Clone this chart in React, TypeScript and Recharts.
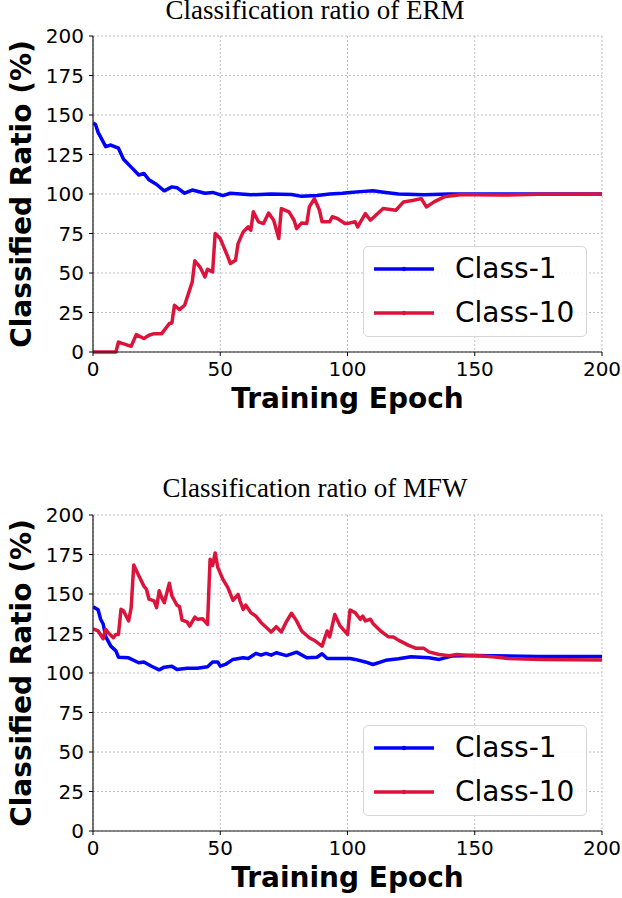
import React from 'react';
import { LineChart, Line, XAxis, YAxis, CartesianGrid, Legend, Label } from 'recharts';

const xTicks = [0, 50, 100, 150, 200];
const yTicks = [0, 25, 50, 75, 100, 125, 150, 175, 200];

// ERM panel
const ermClass1Epochs = [0, 1, 2, 3, 5, 7, 10, 12, 15, 18, 20, 22, 25, 28, 31, 33, 36, 39, 44, 47, 51, 54, 58, 62, 70, 78, 82, 88, 93, 98, 101, 105, 110, 115, 120, 130, 140, 150, 175, 200];
const ermClass1Ratio = [145, 144, 139, 136, 130, 131, 129, 122, 117, 112, 113, 109, 106, 102, 104.5, 104, 100.5, 102.5, 100.5, 101, 99, 100.5, 100, 99.5, 100, 99.7, 98.5, 99, 100, 100.5, 101, 101.5, 102, 101, 100, 99.5, 100, 100, 100, 100];

const ermClass10Epochs = [0, 9, 10, 15, 17, 20, 22, 24, 27, 30, 31, 32, 34, 36, 39, 40, 42, 44, 45, 47, 48, 50, 53, 54, 56, 57, 59, 61, 62, 63, 65, 67, 69, 71, 73, 74, 77, 79, 80, 82, 84, 85, 87, 89, 90, 93, 94, 96, 99, 101, 103, 104, 107, 109, 114, 119, 122, 126, 129, 131, 134, 138, 145, 150, 160, 175, 200];
const ermClass10Ratio = [0, 0, 6.3, 3.6, 11, 8.5, 10.6, 11.6, 11.6, 18, 18.4, 29.6, 26.8, 29.6, 44.4, 57.7, 53.9, 47.5, 52.4, 50.7, 75, 71.8, 60.2, 56, 58, 68.6, 76, 79.2, 77, 88.7, 82.4, 81.3, 88, 83.4, 71.8, 90.8, 88.7, 83.4, 78.1, 81.7, 81.3, 91.8, 97.1, 89.7, 82.4, 82.4, 85.6, 84.5, 81.3, 81.7, 82.4, 79.2, 87.6, 83.4, 90.8, 89.7, 95, 96, 97.1, 91.8, 95, 98.2, 99.7, 99.5, 99.3, 99.8, 100];

// MFW panel
const mfwClass1Epochs = [0, 2, 3, 4, 5, 7, 9, 10, 14, 18, 20, 23, 26, 28, 31, 33, 37, 41, 45, 47, 49, 50, 52, 55, 59, 61, 64, 66, 68, 70, 72, 76, 80, 84, 88, 90, 92, 96, 101, 103, 107, 110, 115, 120, 125, 132, 136, 141, 150, 175, 200];
const mfwClass1Ratio = [142, 140, 134, 131, 123, 117, 114, 110, 109.6, 106.5, 107, 104.3, 102, 103.7, 104.3, 102.2, 103, 103, 104, 107, 107, 104.3, 105.4, 108.6, 109.6, 109.2, 112.4, 111.3, 112.4, 111.3, 112.8, 111, 113.2, 109.6, 110, 112.2, 109.2, 109.2, 109.2, 108.6, 107, 105.4, 108, 109, 110.3, 109.6, 108.6, 110.7, 111, 110.5, 110.5];

const mfwClass10Epochs = [0, 2, 4, 5, 6, 8, 9, 10, 11, 12, 14, 15, 16, 18, 20, 21, 22, 24, 25, 26, 27, 28, 30, 31, 33, 34, 35, 37, 38, 40, 41, 43, 45, 46, 47, 48, 49, 51, 53, 55, 57, 58, 59, 60, 62, 64, 66, 70, 72, 74, 76, 78, 80, 82, 85, 87, 90, 92, 93, 95, 97, 100, 101, 103, 105, 106, 107, 109, 110, 113, 116, 118, 120, 124, 127, 130, 132, 136, 140, 143, 147, 150, 157, 163, 176, 200];
const mfwClass10Ratio = [128, 126.6, 121.7, 127.6, 125.5, 122.3, 124.4, 124.4, 140.3, 139.3, 132.9, 141.4, 168.3, 161.5, 155, 153, 146.7, 145.6, 141.4, 152, 147.7, 144.5, 156.8, 148.8, 142.9, 142, 133.5, 132.3, 129.7, 135.4, 134, 134.4, 130.8, 172, 168, 176, 167, 159.4, 154, 146, 149.8, 144.5, 140.3, 143, 138.2, 136, 132, 126, 129.3, 126, 132.5, 137.8, 133, 126.6, 122.3, 120.6, 117, 126.6, 122.8, 137, 130, 124.4, 139.9, 138.2, 134, 136, 133, 134, 131.4, 126.6, 123, 122.8, 120.8, 117.5, 115.6, 115.6, 113.4, 111.7, 111, 111.7, 111.3, 111.1, 110.3, 109.2, 108.6, 108.2];

const BLUE = '#0000ff';
const RED = '#dc143c';
const SANS = '"DejaVu Sans", sans-serif';
const SERIF = '"Liberation Serif", "Times New Roman", serif';
const FRAME = '#1a1a1a';

const toPoints = (epochs: number[], values: number[]) =>
  epochs.map((epoch, i) => ({ epoch, ratio: values[i] }));

const LegendBox = ({ payload }: any) => (
  <div
    style={{
      position: 'relative',
      width: 224,
      height: 91,
      boxSizing: 'border-box',
      border: '1px solid #d6d6d6',
      borderRadius: 5,
      background: 'rgba(255,255,255,0.85)',
      fontFamily: SANS,
      fontSize: 28,
      color: '#000',
    }}
  >
    {(payload || []).map((entry: any, i: number) => (
      <div
        key={entry.value}
        style={{ position: 'absolute', left: 0, top: 2 + i * 44, height: 40, display: 'flex', alignItems: 'center' }}
      >
        <svg width={91} height={40}>
          <line x1={10} y1={20} x2={70} y2={20} stroke={entry.color} strokeWidth={3.5} />
          <circle cx={40} cy={20} r={2.2} fill={entry.color} />
        </svg>
        <span style={{ lineHeight: '40px' }}>{entry.value}</span>
      </div>
    ))}
  </div>
);

type PanelProps = {
  title: string;
  top: number;
  titleBaseline: number;
  class1: { epoch: number; ratio: number }[];
  class10: { epoch: number; ratio: number }[];
};

const Panel = ({ title, top, titleBaseline, class1, class10 }: PanelProps) => (
  <div style={{ position: 'absolute', left: 0, top, width: 622, height: 420 }}>
    <svg style={{ position: 'absolute', left: 0, top: 0, overflow: 'visible' }} width={622} height={40}>
      <text x={315} y={titleBaseline} textAnchor="middle" fontFamily={SERIF} fontSize={27} fill="#000">
        {title}
      </text>
    </svg>
    <LineChart width={622} height={420} margin={{ top: 36, right: 20, bottom: 38, left: 0 }}>
      <CartesianGrid stroke="#b0b0b0" strokeDasharray="2 2" strokeWidth={0.8} />
      <XAxis
        type="number"
        dataKey="epoch"
        domain={[0, 200]}
        ticks={xTicks}
        allowDataOverflow
        height={30}
        tickSize={4}
        tickMargin={6}
        tick={{ fontSize: 20, fontFamily: SANS, fill: '#000' }}
        tickLine={{ stroke: '#000' }}
        axisLine={{ stroke: FRAME, strokeWidth: 1.2 }}
      >
        <Label
          content={({ viewBox }: any) => (
            <text
              x={viewBox.x + viewBox.width / 2}
              y={viewBox.y + 56}
              textAnchor="middle"
              fontFamily={SANS}
              fontWeight="bold"
              fontSize={28}
              fill="#000"
            >
              Training Epoch
            </text>
          )}
        />
      </XAxis>
      <XAxis
        xAxisId="top"
        orientation="top"
        type="number"
        domain={[0, 200]}
        height={0}
        tick={false}
        tickLine={false}
        axisLine={{ stroke: FRAME, strokeWidth: 1.2 }}
      />
      <YAxis
        type="number"
        domain={[0, 200]}
        ticks={yTicks}
        width={93}
        tickSize={4}
        tickMargin={5}
        tick={{ fontSize: 20, fontFamily: SANS, fill: '#000' }}
        tickLine={{ stroke: '#000' }}
        axisLine={{ stroke: FRAME, strokeWidth: 1.2 }}
      >
        <Label
          content={({ viewBox }: any) => {
            const cx = 31;
            const cy = viewBox.y + viewBox.height / 2;
            return (
              <text
                x={cx}
                y={cy}
                transform={`rotate(-90, ${cx}, ${cy})`}
                textAnchor="middle"
                fontFamily={SANS}
                fontWeight="bold"
                fontSize={28}
                fill="#000"
              >
                Classified Ratio (%)
              </text>
            );
          }}
        />
      </YAxis>
      <YAxis
        yAxisId="right"
        orientation="right"
        type="number"
        domain={[0, 200]}
        width={0}
        tick={false}
        tickLine={false}
        axisLine={{ stroke: FRAME, strokeWidth: 1.2 }}
      />
      <Legend
        layout="vertical"
        align="center"
        verticalAlign="middle"
        content={<LegendBox />}
        wrapperStyle={{ left: 363, top: 246, width: 224 }}
      />
      <Line
        name="Class-1"
        data={class1}
        dataKey="ratio"
        type="linear"
        stroke={BLUE}
        strokeWidth={3.5}
        strokeLinejoin="round"
        dot={false}
        isAnimationActive={false}
      />
      <Line
        name="Class-10"
        data={class10}
        dataKey="ratio"
        type="linear"
        stroke={RED}
        strokeWidth={3.5}
        strokeLinejoin="round"
        dot={false}
        isAnimationActive={false}
      />
    </LineChart>
  </div>
);

export default function App() {
  return (
    <div style={{ position: 'absolute', left: 0, top: 0, width: 622, height: 898, background: '#fff', overflow: 'hidden' }}>
      <Panel
        title="Classification ratio of ERM"
        top={0}
        titleBaseline={19}
        class1={toPoints(ermClass1Epochs, ermClass1Ratio)}
        class10={toPoints(ermClass10Epochs, ermClass10Ratio)}
      />
      <Panel
        title="Classification ratio of MFW"
        top={479}
        titleBaseline={18}
        class1={toPoints(mfwClass1Epochs, mfwClass1Ratio)}
        class10={toPoints(mfwClass10Epochs, mfwClass10Ratio)}
      />
    </div>
  );
}
